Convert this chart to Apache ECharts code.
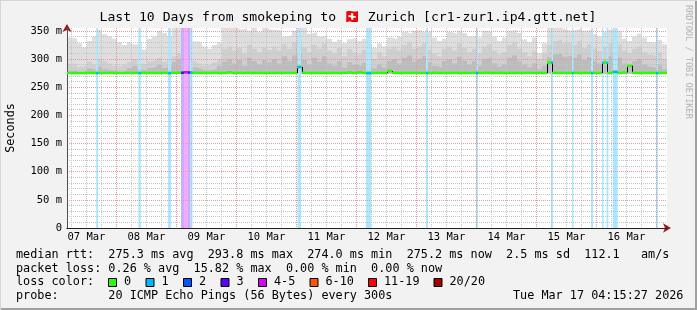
<!DOCTYPE html>
<html><head><meta charset="utf-8">
<script src="https://cdn.jsdelivr.net/npm/echarts@6/dist/echarts.min.js"></script>
<style>
html,body{margin:0;padding:0;background:#f2f2f2;}
#c{width:697px;height:310px;}
</style></head><body><div id="c"></div>
<script>
// ---------- DATA ----------
// time axis: hours since 07 Mar 00:00
const viewStartHour = 4.25;      // 07 Mar 04:15
const viewEndHour = 244.25;      // 17 Mar 04:15
const sampleHours = 2;           // one sample per 2 hours
const dayLabels = ['07 Mar','08 Mar','09 Mar','10 Mar','11 Mar','12 Mar','13 Mar','14 Mar','15 Mar','16 Mar'];
const dayLabelHours = [12,36,60,84,108,132,156,180,204,228];
const dayGridHours = [24,48,72,96,120,144,168,192,216,240];
const sixHourGridHours = [6,12,18,30,36,42,54,60,66,78,84,90,102,108,114,126,132,138,150,156,162,174,180,186,198,204,210,222,228,234];
const yMajorTicks = [0,50,100,150,200,250,300,350];
const yMinorTicks = [10,20,30,40,60,70,80,90,110,120,130,140,160,170,180,190,210,220,230,240,260,270,280,290,310,320,330,340];
const yMax = 355;
const smokeFloor = 274.0; // lowest ping

// smoke: upper envelope of ping distribution (ms), per 2h sample
const smokeTop = [338,336,328,321,332,340,352,344,340,336,
  330,325,330,326,328,317,336,340,350,346,
  340,355,355,355,355,331,330,322,318,325,
  330,355,355,355,352,355,350,355,348,355,
  352,352,350,340,342,350,355,355,345,348,
  340,342,336,330,334,328,335,338,332,336,
  326,320,328,322,338,335,340,348,345,350,
  352,348,350,338,332,336,348,345,350,346,
  340,342,338,350,348,340,332,338,350,352,
  346,335,330,338,310,328,355,355,355,352,
  350,352,355,350,352,344,340,348,352,355,
  350,336,332,340,345,338,330,328,334,326];
const smokeMid = [292,290,286,288,295,290,300,296,292,288,286,290,295,300,292,290,296,298,302,295,300,305,310,312,310,296,292,288,290,294,300,
  318,322,315,320,310,325,318,312,320,316,
  322,315,326,318,330,335,320,312,325,318,328,315,310,320,305,318,312,308,316,310,
  300,312,305,318,322,315,325,330,318,322,328,316,310,305,318,322,315,328,320,312,
  318,310,322,326,315,308,312,325,330,318,312,305,315,300,310,325,332,335,328,330,
  325,332,320,326,318,314,322,328,335,326,315,310,318,322,312,308,305,312,300];
const smokeLow = [278,280,276,279,283,280,286,282,280,278,277,280,284,288,282,280,284,286,290,284,288,295,300,302,298,285,282,279,280,283,288,
  295,300,292,298,288,302,296,290,298,294,
  300,292,305,296,306,310,298,290,302,295,305,292,288,296,285,294,290,287,293,288,
  283,290,285,296,300,292,302,306,295,300,305,294,288,285,296,300,292,304,297,290,
  296,288,300,303,292,286,290,302,306,296,290,285,292,282,288,303,308,310,304,306,
  302,308,298,303,296,292,300,305,310,303,292,288,296,300,290,286,284,290,282];
// median rtt (ms), per 2h sample
const medianRtt = [275.2,275.0,275.1,275.0,275.3,275.0,275.1,275.0,275.2,275.0,
  275.1,275.0,275.2,275.0,275.1,275.3,275.0,275.1,275.0,275.2,
  275.0,275.4,275.6,276.5,276.0,275.2,275.0,275.1,275.0,275.2,
  275.0,275.1,276.4,275.0,275.1,275.0,275.2,275.0,275.1,275.0,
  275.2,275.0,275.1,275.0,275.2,275.0,285.8,275.3,275.0,275.1,
  275.0,275.2,275.0,275.1,275.0,275.3,276.0,275.1,276.2,275.0,
  275.1,275.0,275.2,275.0,278.8,275.3,275.0,275.1,275.0,275.2,
  275.0,275.1,275.0,275.3,275.0,275.1,275.0,275.2,275.0,275.1,
  275.0,275.2,275.0,275.1,275.3,275.0,275.1,275.0,275.2,275.0,
  275.1,275.0,275.2,275.0,275.1,275.0,293.6,275.2,275.0,275.1,
  275.0,275.2,275.0,275.1,275.0,275.2,275.0,293.3,275.1,277.0,
  275.0,276.0,288.0,275.2,275.0,275.1,275.0,275.2,275.0,275.2];
// packet loss events: start hour, end hour, pings lost (of 20)
const lossStartHour = [15.9,32.8,44.65,49.85,51.05,52.65,53.45,96.45,123.85,147.85,167.85,197.85,206.25,213.85,218.25,220.05,222.55,239.85];
const lossEndHour   = [16.7,33.8,45.85,51.05,52.65,53.45,54.45,97.85,125.85,148.65,168.65,198.65,206.85,214.65,218.85,220.8,224.55,240.65];
const lossPings     = [1,1,1,3,4,3,1,1,1,1,1,1,1,1,1,1,1,1];
// loss colour legend
const lossLegendLabels = ['0','1','2','3','4-5','6-10','11-19','20/20'];
const lossLegendMax    = [0,1,2,3,5,10,19,20];
const lossLegendColors = ['#26ff00','#00b8ff','#0059ff','#5e00ff','#dd00ff','#ff5500','#ff0000','#a10000'];
// legend texts
const titleText = 'Last 10 Days from smokeping to 🇨🇭 Zurich [cr1-zur1.ip4.gtt.net]';
const rttStats = ['275.3 ms avg','293.8 ms max','274.0 ms min','275.2 ms now','2.5 ms sd','112.1   am/s'];
const lossStats = ['0.26 % avg','15.82 % max','0.00 % min','0.00 % now'];
const probeText = '20 ICMP Echo Pings (56 Bytes) every 300s';
const stampText = 'Tue Mar 17 04:15:27 2026';

// ---------- HELPERS ----------
const MONO = '"DejaVu Sans Mono", monospace';
function lossColor(n){ for (let i=0;i<lossLegendMax.length;i++){ if (n<=lossLegendMax[i]) return lossLegendColors[i]; } return lossLegendColors[lossLegendColors.length-1]; }
function tint(hex, a){ const r=parseInt(hex.slice(1,3),16),g=parseInt(hex.slice(3,5),16),b=parseInt(hex.slice(5,7),16);
  const m=c=>Math.round(c*a+255*(1-a)); return 'rgb('+m(r)+','+m(g)+','+m(b)+')'; }
function steps(arr){ const d = arr.map((v,i)=>[viewStartHour+i*sampleHours, v]); d.push([viewStartHour+arr.length*sampleHours, arr[arr.length-1]]); return d; }
function smokeSeries(arr, color){ return {type:'line', data:steps(arr), step:'end', symbol:'none', silent:true, z:1,
  lineStyle:{opacity:0}, areaStyle:{color:color, opacity:1, origin:smokeFloor}}; }

const chart = echarts.init(document.getElementById('c'), null, {width:697, height:310});
const grid = {left:67, top:28, width:600, height:200, show:true, backgroundColor:'#ffffff', borderWidth:0,
  containLabel:false, outerBoundsMode:'none'};
const minorLine = {show:true, lineStyle:{color:'#c4c4c4', width:1, type:[1,1]}};
const majorLine = {show:true, lineStyle:{color:'#e49a9a', width:1, type:[1,1]}};
const hiddenAxis = {axisLabel:{show:false}, axisLine:{show:false}};

const lossData = lossStartHour.map((s,i)=>[s, lossEndHour[i], lossPings[i]]);

const medianData = medianRtt.map((v,i)=>[viewStartHour+i*sampleHours, v]);

const graphics = [];
// title
graphics.push({type:'text', x:348, y:18, style:{text:titleText, font:'13.1px '+MONO, fill:'#000', align:'center', verticalAlign:'middle'}});
// watermark
graphics.push({type:'text', x:688, y:5, rotation:-Math.PI/2, style:{text:'RRDTOOL / TOBI OETIKER', font:'8.6px '+MONO, fill:'#b4b4b4', align:'left', verticalAlign:'middle'}});
// legend lines
const LF = '11.8px '+MONO;
graphics.push({type:'text', x:16, y:255, style:{text:'median rtt:  '+rttStats.join('  '), font:LF, fill:'#000', align:'left', verticalAlign:'middle'}});
graphics.push({type:'text', x:16, y:268.5, style:{text:'packet loss: '+lossStats.join('  '), font:LF, fill:'#000', align:'left', verticalAlign:'middle'}});
graphics.push({type:'text', x:16, y:282, style:{text:'loss color:', font:LF, fill:'#000', align:'left', verticalAlign:'middle'}});
graphics.push({type:'text', x:16, y:296, style:{text:'probe:       '+probeText, font:LF, fill:'#000', align:'left', verticalAlign:'middle'}});
graphics.push({type:'text', x:513, y:296, style:{text:stampText, font:LF, fill:'#000', align:'left', verticalAlign:'middle'}});
let lx = 108;
lossLegendLabels.forEach((lab,i)=>{
  graphics.push({type:'rect', shape:{x:lx+0.5, y:278.5, width:8, height:8}, style:{fill:lossLegendColors[i], stroke:'#000', lineWidth:1}});
  graphics.push({type:'text', x:lx+16, y:282, style:{text:lab, font:LF, fill:'#000', align:'left', verticalAlign:'middle'}});
  lx += 30.5 + lab.length*7;
});
// frame shading
graphics.push({type:'rect', shape:{x:0, y:308, width:697, height:2}, style:{fill:'#a0a0a0'}});
graphics.push({type:'rect', shape:{x:695, y:0, width:2, height:310}, style:{fill:'#a0a0a0'}});
graphics.push({type:'rect', shape:{x:0, y:0, width:697, height:1}, style:{fill:'#d6d6d6'}});
graphics.push({type:'rect', shape:{x:0, y:0, width:1, height:310}, style:{fill:'#d6d6d6'}});

chart.setOption({
  animation:false,
  backgroundColor:'#f2f2f2',
  grid: grid,
  graphic: graphics,
  xAxis: [
    {type:'value', min:viewStartHour, max:viewEndHour, position:'bottom', z:4,
     axisLine:{show:true, onZero:false, lineStyle:{color:'#202020', width:1}},
     axisTick:{show:false, customValues:dayLabelHours},
     axisLabel:{customValues:dayLabelHours, margin:4, color:'#000', fontFamily:'DejaVu Sans Mono', fontSize:10.5,
       formatter:v=>dayLabels[dayLabelHours.indexOf(v)]},
     splitLine:{show:false}},
    Object.assign({type:'value', min:viewStartHour, max:viewEndHour, position:'bottom', z:3,
     axisTick:{show:false, customValues:sixHourGridHours}, splitLine:minorLine}, hiddenAxis),
    Object.assign({type:'value', min:viewStartHour, max:viewEndHour, position:'bottom', z:3,
     axisTick:{show:false, customValues:dayGridHours}, splitLine:majorLine}, {axisLabel:{show:false}, axisLine:{show:false}}),
    {type:'value', min:viewStartHour, max:viewEndHour, position:'bottom', z:2,
     axisLine:{show:true, onZero:false, symbol:['none','arrow'], symbolSize:[7,8], symbolOffset:[0,4], lineStyle:{color:'#9a1c1c'}},
     axisTick:{show:false}, axisLabel:{show:false}, splitLine:{show:false}}
  ],
  yAxis: [
    {type:'value', min:0, max:yMax, position:'left', z:4, name:'Seconds', nameLocation:'middle', nameGap:50,
     nameTextStyle:{fontFamily:'DejaVu Sans Mono', fontSize:11.8, color:'#000'},
     axisLine:{show:true, onZero:false, lineStyle:{color:'#505050', width:1}},
     axisTick:{show:false, customValues:yMajorTicks},
     axisLabel:{customValues:yMajorTicks, margin:5, color:'#000', fontFamily:'DejaVu Sans Mono', fontSize:10.5,
       formatter:v=> v===0 ? '0' : v+' m'},
     splitLine:majorLine},
    Object.assign({type:'value', min:0, max:yMax, position:'left', z:3,
     axisTick:{show:false, customValues:yMinorTicks}, splitLine:minorLine}, hiddenAxis),
    {type:'value', min:0, max:yMax, position:'left', z:2,
     axisLine:{show:true, onZero:false, symbol:['none','arrow'], symbolSize:[7,8], symbolOffset:[0,4], lineStyle:{color:'#9a1c1c'}},
     axisTick:{show:false}, axisLabel:{show:false}, splitLine:{show:false}}
  ],
  series: [
    smokeSeries(smokeTop, '#dedede'),
    smokeSeries(smokeMid, '#cfcfcf'),
    smokeSeries(smokeLow, '#bcbcbc'),
    {type:'custom', z:2, silent:true, data:lossData, encode:{x:[0,1], y:2},
     renderItem:(params, api)=>{
       const p0 = api.coord([api.value(0), yMax]); const p1 = api.coord([api.value(1), 0]);
       return {type:'rect', shape:{x:p0[0], y:p0[1], width:p1[0]-p0[0], height:p1[1]-p0[1]},
               style:{fill:tint(lossColor(api.value(2)), 0.33)}};
     }},
    {type:'custom', z:5, silent:true, data:medianData, encode:{x:0, y:1},
     renderItem:(params, api)=>{
       const i = params.dataIndex; const t = api.value(0), v = api.value(1);
       const a = api.coord([t, v]); const b = api.coord([t+sampleHours, v]);
       const ch = [];
       if (i>0 && Math.abs(medianRtt[i-1]-v) > 1) {
         const p = api.coord([t, medianRtt[i-1]]);
         const xx = Math.round(a[0])+0.5;
         ch.push({type:'line', shape:{x1:xx, y1:p[1], x2:xx, y2:a[1]}, style:{stroke:'#000', lineWidth:1}});
       }
       ch.push({type:'line', shape:{x1:a[0], y1:a[1], x2:b[0], y2:b[1]}, style:{stroke:lossLegendColors[0], lineWidth:2.5}});
       return {type:'group', children:ch};
     }},
    {type:'custom', z:6, silent:true, data:lossData, encode:{x:[0,1], y:2},
     renderItem:(params, api)=>{
       const s = api.value(0), e = api.value(1);
       const idx = Math.min(medianRtt.length-1, Math.floor((s - viewStartHour)/sampleHours));
       const v = medianRtt[idx];
       const a = api.coord([s, v]); const b = api.coord([e, v]);
       return {type:'line', shape:{x1:a[0], y1:a[1], x2:b[0], y2:b[1]}, style:{stroke:lossColor(api.value(2)), lineWidth:2.5}};
     }}
  ]
});
</script></body></html>
